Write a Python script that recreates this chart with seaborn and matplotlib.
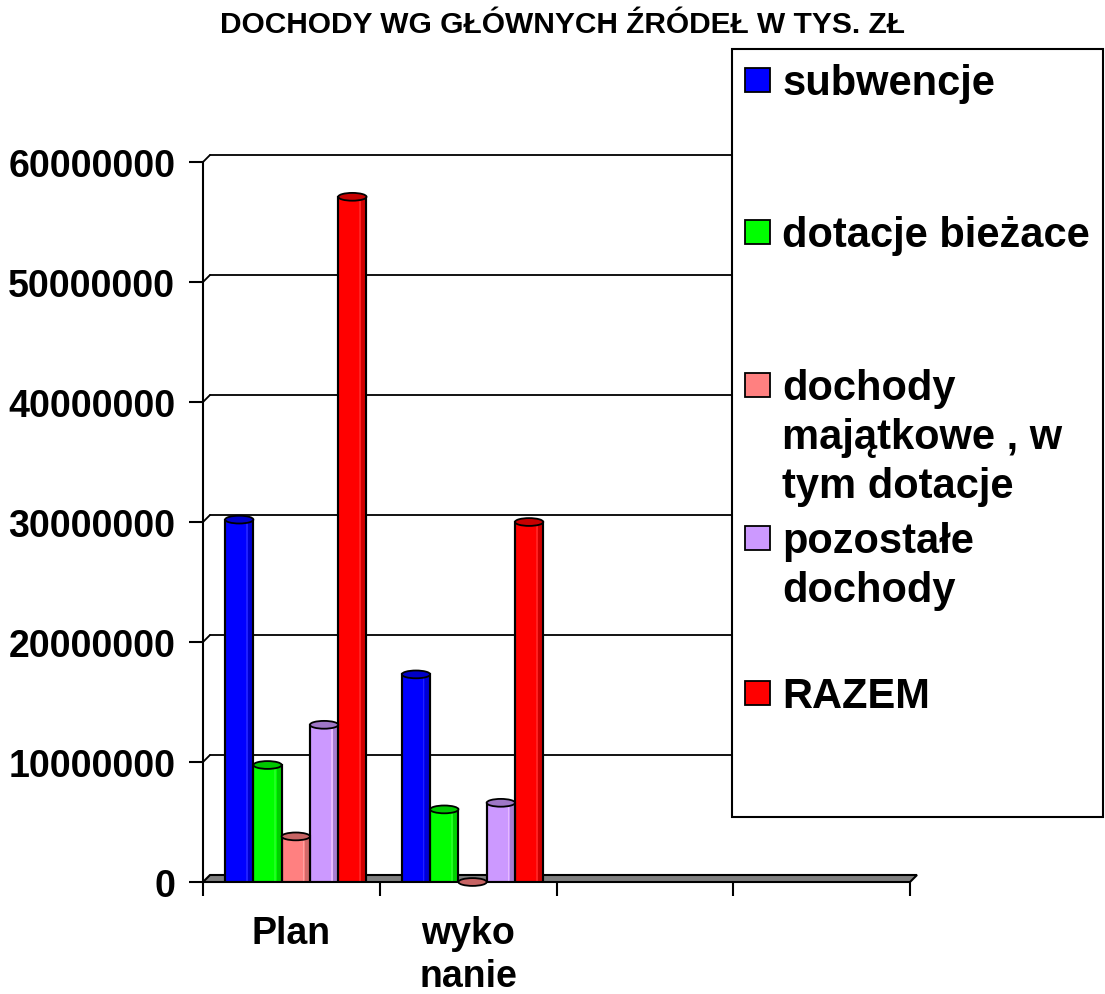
import numpy as np
import pandas as pd
import matplotlib
matplotlib.use('Agg')
import matplotlib.pyplot as plt
from matplotlib.patches import Rectangle, Ellipse, Polygon
import matplotlib.colors as mcolors
import seaborn as sns

# dane
okresy = ['Plan', 'wyko\nnanie']
zrodla = ['subwencje', 'dotacje bieżace', 'dochody\nmajątkowe , w\ntym dotacje',
          'pozostałe\ndochody', 'RAZEM']
plan = [30200000, 9750000, 3800000, 13100000, 57100000]
wykonanie = [17300000, 6050000, 0, 6600000, 30000000]
kolory = ['#0000FF', '#00FF00', '#FF8080', '#CC99FF', '#FF0000']
yticks = [0, 10000000, 20000000, 30000000, 40000000, 50000000, 60000000]

df = pd.DataFrame({
    'okres': [okresy[0]] * len(zrodla) + [okresy[1]] * len(zrodla),
    'zrodlo': zrodla + zrodla,
    'wartosc': plan + wykonanie,
})

sns.set_style('white')
plt.rcParams['font.family'] = ['Liberation Sans', 'DejaVu Sans']
plt.rcParams['font.weight'] = 'bold'
plt.rcParams['text.color'] = 'black'
plt.rcParams['xtick.color'] = 'black'
plt.rcParams['ytick.color'] = 'black'

W, H = 1105, 995
fig = plt.figure(figsize=(W / 100, H / 100), dpi=100)

def fx(px):
    return px / W

def fy(py):
    return 1 - py / H

# obszar wykresu: os y od 203 px, zero na 883 px, 60 mln na 163 px
ax = fig.add_axes([fx(203), fy(883), fx(910) - fx(203), fy(163) - fy(883)])

# przesuniecie "glebi" 3D w jednostkach danych (ok. 7 px)
dx = 7 / 707 * 4
dy = 7 / 720 * 60000000

# podloga
floor = Polygon([(-0.5, 0), (3.5, 0), (3.5 + dx, dy), (-0.5 + dx, dy)],
                closed=True, facecolor='#808080', edgecolor='black', lw=1.5,
                clip_on=False, zorder=1)
ax.add_patch(floor)

# linie siatki na tylnej scianie + laczniki
for v in yticks[1:]:
    ax.plot([-0.5 + dx, 3.5 + dx], [v + dy, v + dy], color='black', lw=1.3,
            clip_on=False, zorder=0.5)
    ax.plot([-0.5, -0.5 + dx], [v, v + dy], color='black', lw=1.3,
            clip_on=False, zorder=0.5)

sns.barplot(data=df, x='okres', y='wartosc', hue='zrodlo', order=okresy,
            hue_order=zrodla, palette=kolory, width=0.8, edgecolor='black',
            linewidth=1.5, legend=False, ax=ax, zorder=3, saturation=1)
ax.set_xlim(-0.5, 3.5)
ax.set_ylim(0, 60000000)

# efekt walca: ciemniejsza pokrywka i cien po prawej
for p in list(ax.patches):
    if not isinstance(p, Rectangle) or p is floor:
        continue
    x, w, h = p.get_x(), p.get_width(), p.get_height()
    x = x + 0.025
    p.set_x(x)
    fc = np.array(mcolors.to_rgb(p.get_facecolor()))
    ax.add_patch(Rectangle((x + w * 0.82, 0), w * 0.18, h, facecolor=fc * 0.82,
                           edgecolor='none', zorder=3.2))
    ax.add_patch(Rectangle((x + w * 0.74, 0), w * 0.06, h,
                           facecolor=np.minimum(fc + 0.25, 1), edgecolor='none',
                           alpha=0.5, zorder=3.2))
    ax.add_patch(Rectangle((x, 0), w, h, facecolor='none', edgecolor='black',
                           lw=1.5, zorder=3.3))
    ax.add_patch(Ellipse((x + w / 2, h), w, 650000, facecolor=fc * 0.78,
                         edgecolor='black', lw=1.3, zorder=3.4, clip_on=False))

sns.despine(ax=ax, top=True, right=True, bottom=True)
ax.spines['left'].set_linewidth(1.5)
ax.spines['left'].set_color('black')

ax.set_yticks(yticks)
ax.set_yticklabels([str(v) for v in yticks], fontsize=27, fontweight='bold')
ax.tick_params(axis='y', direction='out', length=10, width=1.5, pad=10,
               left=True, color='black')

ax.set_xticks([0, 1])
ax.set_xticklabels(okresy, fontsize=27, fontweight='bold', linespacing=1.25)
ax.set_xticks([-0.5, 0.5, 1.5, 2.5, 3.5], minor=True)
ax.tick_params(axis='x', which='major', length=0, pad=24)
ax.tick_params(axis='x', which='minor', direction='out', length=10, width=1.5,
               bottom=True, color='black')
ax.set_xlabel('')
ax.set_ylabel('')
ax.grid(False)

fig.text(fx(562), fy(25), 'DOCHODY WG GŁÓWNYCH ŹRÓDEŁ W TYS. ZŁ',
         ha='center', va='center', fontsize=21.5, fontweight='bold')

# legenda w ramce po prawej
fig.add_artist(Rectangle((fx(732), fy(818)), fx(1103) - fx(732), fy(50) - fy(818),
                         transform=fig.transFigure, facecolor='white',
                         edgecolor='black', lw=1.5, zorder=5))
baselines = [95, 247, 400, 553, 708]
for label, kolor, b in zip(zrodla, kolory, baselines):
    fig.add_artist(Rectangle((fx(745), fy(b - 2)), fx(25), 24 / H,
                             transform=fig.transFigure, facecolor=kolor,
                             edgecolor='black', lw=1.3, zorder=6))
    for i, line in enumerate(label.split('\n')):
        fig.text(fx(782), fy(b + 49 * i), line, fontsize=30,
                 fontweight='bold', va='baseline', ha='left', zorder=7)

fig.savefig('out.png', dpi=100)
